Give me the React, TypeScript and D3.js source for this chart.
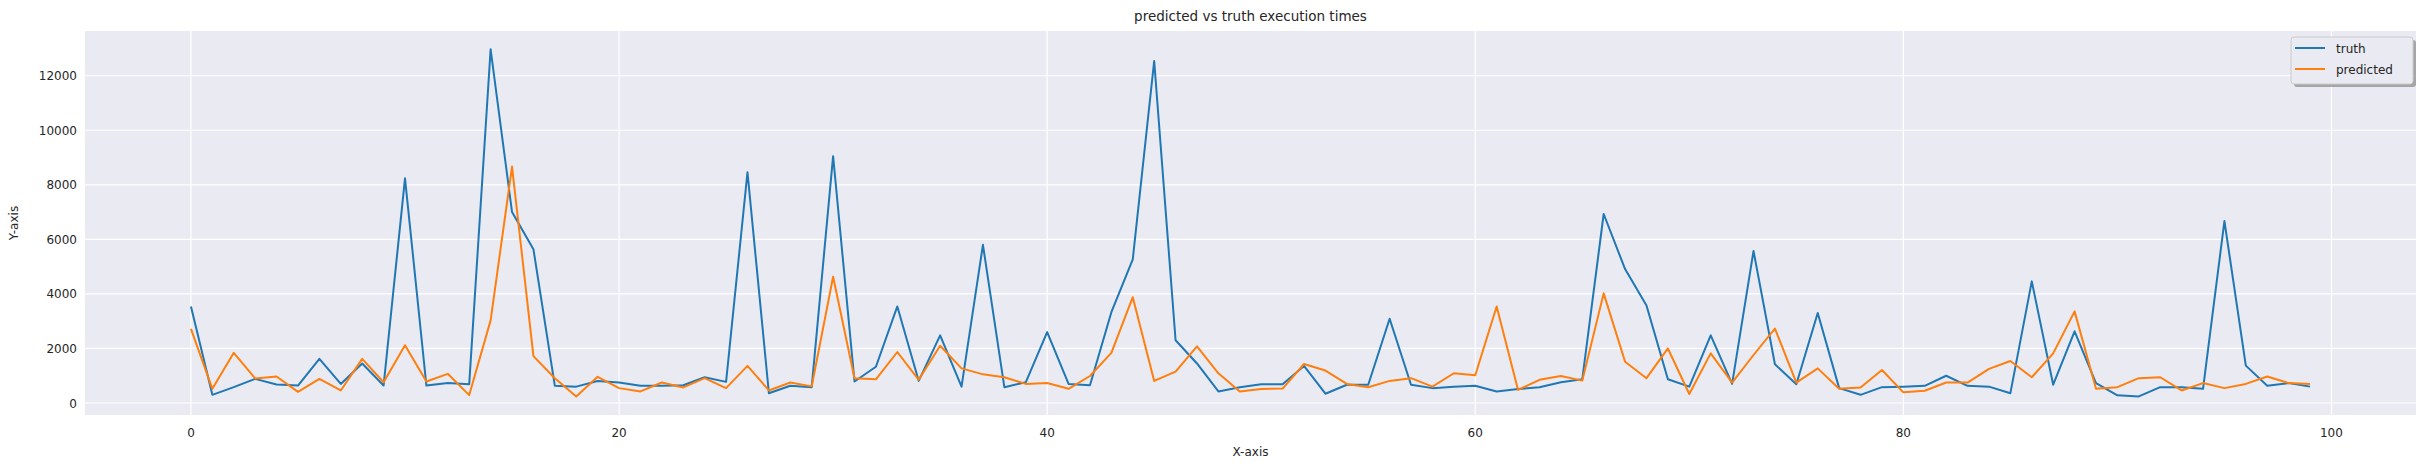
import React from "react";
import * as d3 from "d3";

const truth = [
  3540, 300, 580, 885, 680, 640, 1620, 700, 1450, 640,
  8240, 640, 730, 690, 12970, 7000, 5640, 630, 600, 810,
  750, 630, 630, 650, 945, 775, 8460, 360, 630, 580,
  9050, 790, 1330, 3540, 810, 2480, 600, 5800, 580, 760,
  2600, 700, 650, 3330, 5270, 12540, 2300, 1450, 425, 580,
  690, 690, 1360, 340, 670, 670, 3090, 670, 545, 600,
  630, 425, 510, 580, 760, 870, 6930, 4910, 3575, 870,
  600, 2480, 700, 5575, 1420, 690, 3300, 545, 300, 580,
  600, 630, 1000, 630, 600, 360, 4460, 670, 2630, 730,
  280, 240, 580, 580, 520, 6670, 1370, 630, 730, 600,
];
const predicted = [
  2715, 520, 1840, 900, 970, 410, 885, 460, 1620, 760,
  2120, 790, 1070, 290, 3030, 8670, 1720, 910, 240, 960,
  545, 425, 750, 570, 910, 545, 1360, 460, 750, 610,
  4630, 910, 870, 1870, 850, 2100, 1270, 1050, 945, 700,
  730, 520, 990, 1840, 3880, 810, 1150, 2080, 1090, 425,
  510, 530, 1430, 1190, 700, 580, 810, 910, 600, 1090,
  1020, 3540, 480, 850, 990, 820, 4020, 1510, 910, 2000,
  330, 1820, 750, 1760, 2730, 750, 1270, 520, 570, 1210,
  390, 450, 750, 750, 1250, 1540, 945, 1820, 3360, 520,
  580, 910, 945, 460, 730, 545, 700, 970, 730, 700,
];
const xTicks = [0, 20, 40, 60, 80, 100];
const yTicks = [0, 2000, 4000, 6000, 8000, 10000, 12000];
const seriesNames = ["truth", "predicted"];
const colors = ["#1f77b4", "#ff7f0e"];

const W = 2418;
const H = 468;
const left = 85, right = 2416, top = 31, bottom = 415;
const font = "DejaVu Sans, sans-serif";

export default function App() {
  const x = d3.scaleLinear().domain([-4.95, 103.95]).range([left, right]);
  const y = d3.scaleLinear().domain([-440, 13640]).range([bottom, top]);
  const line = d3
    .line<number>()
    .x((_, i) => x(i))
    .y((d) => y(d));
  const series = [truth, predicted];

  return (
    <svg
      width={W}
      height={H}
      style={{ position: "absolute", left: 0, top: 0, background: "#fff" }}
      fontFamily={font}
    >
      <rect x={left} y={top} width={right - left} height={bottom - top} fill="#eaeaf2" />
      {xTicks.map((t) => (
        <g key={"x" + t}>
          <line x1={x(t)} x2={x(t)} y1={top} y2={bottom} stroke="#fff" strokeWidth={1.2} />
          <text x={x(t)} y={437} fontSize={12} textAnchor="middle" fill="#262626">{t}</text>
        </g>
      ))}
      {yTicks.map((t) => (
        <g key={"y" + t}>
          <line x1={left} x2={right} y1={y(t)} y2={y(t)} stroke="#fff" strokeWidth={1.2} />
          <text x={77} y={y(t) + 4.5} fontSize={12} textAnchor="end" fill="#262626">{t}</text>
        </g>
      ))}
      {series.map((s, k) => (
        <path key={k} d={line(s) || ""} fill="none" stroke={colors[k]} strokeWidth={2} strokeLinejoin="round" />
      ))}
      <text x={(left + right) / 2} y={21} fontSize={13.5} textAnchor="middle" fill="#262626">
        predicted vs truth execution times
      </text>
      <text x={(left + right) / 2} y={456} fontSize={12} textAnchor="middle" fill="#262626">X-axis</text>
      <text transform={`translate(18,${(top + bottom) / 2}) rotate(-90)`} fontSize={12} textAnchor="middle" fill="#262626">
        Y-axis
      </text>
      <g>
        <rect x={2294} y={40} width={122} height={47} rx={3} fill="#888" opacity={0.7} />
        <rect x={2291} y={37} width={122} height={47} rx={3} fill="#eaeaf2" stroke="#ccc" />
        {seriesNames.map((n, k) => (
          <g key={n}>
            <line x1={2295} x2={2325} y1={48 + k * 21} y2={48 + k * 21} stroke={colors[k]} strokeWidth={2} />
            <text x={2336} y={52.5 + k * 21} fontSize={12} fill="#262626">{n}</text>
          </g>
        ))}
      </g>
    </svg>
  );
}
